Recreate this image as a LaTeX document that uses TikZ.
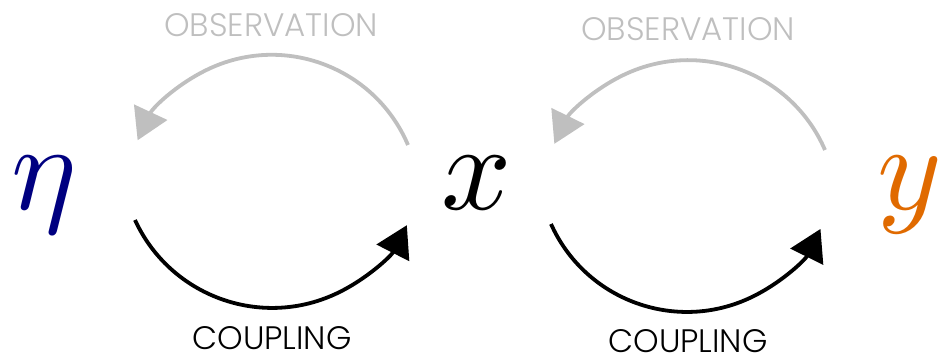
\documentclass[tikz,border=0pt]{standalone}
\usepackage{fontspec}
\setmainfont{Poppins}[UprightFont=* Light]
\usepackage{unicode-math}
\setmathfont{Latin Modern Math}
\usetikzlibrary{arrows.meta}
\definecolor{etablue}{RGB}{0,0,128}
\definecolor{yorange}{RGB}{224,106,0}
\definecolor{obsgray}{RGB}{191,191,191}
\tikzset{
  var/.style={inner sep=0pt, anchor=base, font=\fontsize{123}{123}\selectfont},
  lbl/.style={inner sep=0pt, anchor=base, text depth=0pt, font=\fontsize{32.5}{32.5}\selectfont},
  obsarrow/.style={draw=obsgray, line width=3.8pt, -{Triangle[length=31pt,width=36pt]}, obsgray},
  cplarrow/.style={draw=black, line width=3.8pt, -{Triangle[length=31pt,width=36pt]}},
}
\begin{document}
\begin{tikzpicture}[x=1pt,y=1pt]
\useasboundingbox (0,0) rectangle (938,359);
\node[var, text=etablue] (eta) at (44,149) {$\eta$};
\node[var] (x) at (477,149) {$x$};
\node[var, text=yorange] (y) at (909,149) {$y$};
\node[lbl, text=obsgray] (obs1) at (271,322) {OBSERVATION};
\node[lbl, text=obsgray] (obs2) at (688,318) {OBSERVATION};
\node[lbl] (cpl1) at (272,9.5) {COUPLING};
\node[lbl] (cpl2) at (688,6.5) {COUPLING};
\coordinate (o1s) at (408,214);
\coordinate (c1s) at (135,139);
\coordinate (o2s) at (825,209);
\coordinate (c2s) at (551,135);
\draw[obsarrow] (o1s) arc[start angle=23, end angle=155, radius=148];
\draw[cplarrow] (c1s) arc[start angle=204.7, end angle=333.1, radius=151];
\draw[obsarrow] (o2s) arc[start angle=23.4, end angle=154, radius=149];
\draw[cplarrow] (c2s) arc[start angle=204.2, end angle=333.7, radius=149];
\end{tikzpicture}
\end{document}
